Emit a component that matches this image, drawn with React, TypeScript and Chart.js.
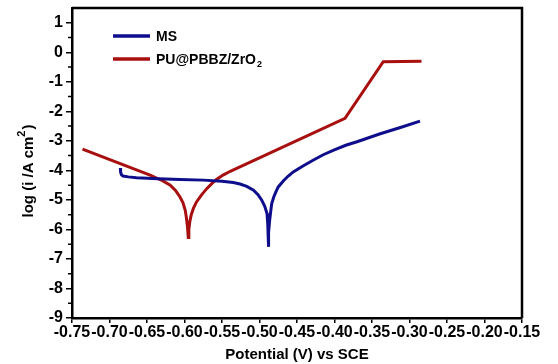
import React, { useEffect, useRef } from "react";
import { Chart, registerables } from "chart.js";

Chart.register(...registerables);

// ---- Data ----
const msPotential = [
  -0.6855, -0.6852, -0.684, -0.682, -0.675, -0.664, -0.635, -0.606, -0.575, -0.55,
  -0.535, -0.526, -0.517, -0.508, -0.502, -0.497, -0.493, -0.49, -0.489, -0.4885,
  -0.4883, -0.4875, -0.4865, -0.485, -0.4837, -0.481, -0.478, -0.475, -0.468, -0.462,
  -0.455, -0.442, -0.428, -0.415, -0.401, -0.385, -0.37, -0.339, -0.31, -0.286,
];
const msLogI = [
  -3.92, -4.06, -4.15, -4.19, -4.22, -4.25, -4.28, -4.31, -4.33, -4.37,
  -4.41, -4.46, -4.54, -4.67, -4.82, -5.01, -5.22, -5.46, -5.8, -6.2,
  -6.59, -6.1, -5.7, -5.38, -5.12, -4.9, -4.72, -4.56, -4.35, -4.2,
  -4.05, -3.85, -3.65, -3.47, -3.31, -3.15, -3.03, -2.76, -2.53, -2.33,
];

const puPotential = [
  -0.736, -0.645, -0.638, -0.63, -0.619, -0.612, -0.606, -0.602, -0.599, -0.5975,
  -0.596, -0.595, -0.5942, -0.593, -0.591, -0.588, -0.584, -0.577, -0.57, -0.563,
  -0.557, -0.548, -0.539, -0.386, -0.335, -0.284,
];
const puLogI = [
  -3.28, -4.17, -4.25, -4.34, -4.5, -4.68, -4.9, -5.1, -5.35, -5.6,
  -5.91, -6.27, -6.0, -5.75, -5.5, -5.28, -5.07, -4.82, -4.61, -4.43,
  -4.3, -4.15, -4.03, -2.24, -0.32, -0.3,
];

const xTickValues = [
  -0.75, -0.7, -0.65, -0.6, -0.55, -0.5, -0.45, -0.4, -0.35, -0.3, -0.25, -0.2, -0.15,
];
const yTickValues = [-9, -8, -7, -6, -5, -4, -3, -2, -1, 0, 1];
const yMinorTickValues = [-8.5, -7.5, -6.5, -5.5, -4.5, -3.5, -2.5, -1.5, -0.5, 0.5];

const seriesNames = ["MS", "PU@PBBZ/ZrO"];
const seriesColors = ["#0e0e8c", "#a80f0f"];

const FONT = "'Liberation Sans', Arial, sans-serif";

const decorPlugin = {
  id: "decor",
  afterDraw(chart: any) {
    const ctx = chart.ctx as CanvasRenderingContext2D;
    const { left, right, top, bottom } = chart.chartArea;
    const yScale = chart.scales.y;
    ctx.save();
    // top & right frame
    ctx.strokeStyle = "#000";
    ctx.lineWidth = 2.5;
    ctx.beginPath();
    ctx.moveTo(left, top);
    ctx.lineTo(right, top);
    ctx.lineTo(right, bottom);
    ctx.stroke();
    // minor y ticks
    ctx.lineWidth = 1.5;
    ctx.beginPath();
    for (const v of yMinorTickValues) {
      const py = yScale.getPixelForValue(v);
      ctx.moveTo(left - 4, py);
      ctx.lineTo(left, py);
    }
    ctx.stroke();

    // legend
    const lx0 = left + 41;
    const lx1 = left + 78;
    const tx = left + 84;
    const rows = [top + 28, top + 51];
    ctx.textBaseline = "middle";
    ctx.textAlign = "left";
    rows.forEach((ry, i) => {
      ctx.strokeStyle = seriesColors[i];
      ctx.lineWidth = 3.5;
      ctx.beginPath();
      ctx.moveTo(lx0, ry);
      ctx.lineTo(lx1, ry);
      ctx.stroke();
      ctx.fillStyle = "#000";
      ctx.font = `bold 14px ${FONT}`;
      ctx.fillText(seriesNames[i], tx, ry + 1);
      if (i === 1) {
        const w = ctx.measureText(seriesNames[i]).width;
        ctx.font = `bold 9px ${FONT}`;
        ctx.fillText("2", tx + w + 1, ry + 6);
      }
    });

    // y-axis title (rotated, with superscript)
    ctx.translate(29, 171);
    ctx.rotate(-Math.PI / 2);
    ctx.fillStyle = "#000";
    ctx.textBaseline = "middle";
    const main = "log (i /A cm";
    ctx.font = `bold 15px ${FONT}`;
    const wMain = ctx.measureText(main).width;
    const wClose = ctx.measureText(")").width;
    ctx.font = `bold 11px ${FONT}`;
    const wSup = ctx.measureText("2").width;
    const total = wMain + wSup + 1 + wClose;
    let x = -total / 2;
    ctx.font = `bold 15px ${FONT}`;
    ctx.fillText(main, x, 0);
    x += wMain;
    ctx.font = `bold 11px ${FONT}`;
    ctx.fillText("2", x, -7);
    x += wSup + 1;
    ctx.font = `bold 15px ${FONT}`;
    ctx.fillText(")", x, 0);
    ctx.restore();
  },
};

export default function App() {
  const canvasRef = useRef<HTMLCanvasElement | null>(null);

  useEffect(() => {
    document.body.style.margin = "0";
    const canvas = canvasRef.current;
    if (!canvas) return;
    const chart = new Chart(canvas, {
      type: "scatter",
      data: {
        datasets: [
          {
            label: seriesNames[0],
            data: msPotential.map((x, i) => ({ x, y: msLogI[i] })),
            borderColor: seriesColors[0],
            backgroundColor: seriesColors[0],
            borderWidth: 3,
            showLine: true,
            pointRadius: 0,
            tension: 0,
          },
          {
            label: seriesNames[1] + "2",
            data: puPotential.map((x, i) => ({ x, y: puLogI[i] })),
            borderColor: seriesColors[1],
            backgroundColor: seriesColors[1],
            borderWidth: 3,
            showLine: true,
            pointRadius: 0,
            tension: 0,
          },
        ],
      },
      options: {
        animation: false,
        responsive: true,
        maintainAspectRatio: false,
        layout: { padding: { top: 8, right: 36, left: 0, bottom: 0 } },
        plugins: {
          legend: { display: false },
          tooltip: { enabled: false },
        },
        scales: {
          x: {
            type: "linear",
            min: -0.75,
            max: -0.15,
            afterBuildTicks: (scale: any) => {
              scale.ticks = xTickValues.map((v) => ({ value: v }));
            },
            afterFit: (scale: any) => {
              scale.height = 46;
            },
            ticks: {
              autoSkip: false,
              maxRotation: 0,
              minRotation: 0,
              padding: 2,
              color: "#000",
              font: { family: FONT, size: 16, weight: "bold", lineHeight: 1 },
              callback: (v: any) => Number(v).toFixed(2),
            },
            grid: {
              display: true,
              drawOnChartArea: false,
              drawTicks: true,
              tickLength: 5,
              color: "#000",
              lineWidth: 1.5,
            },
            border: { display: true, color: "#000", width: 2.5 },
            title: {
              display: true,
              text: "Potential (V) vs SCE",
              color: "#000",
              font: { family: FONT, size: 15, weight: "bold" },
              padding: { top: 1, bottom: 0 },
            },
          },
          y: {
            type: "linear",
            min: -9,
            max: 1.5,
            afterBuildTicks: (scale: any) => {
              scale.ticks = yTickValues.map((v) => ({ value: v }));
            },
            afterFit: (scale: any) => {
              scale.width = 72;
              scale.paddingTop = 0;
              scale.paddingBottom = 0;
            },
            ticks: {
              padding: 3,
              color: "#000",
              font: { family: FONT, size: 16, weight: "bold", lineHeight: 1 },
              callback: (v: any) => String(v),
            },
            grid: {
              display: true,
              drawOnChartArea: false,
              drawTicks: true,
              tickLength: 6,
              color: "#000",
              lineWidth: 1.5,
            },
            border: { display: true, color: "#000", width: 2.5 },
          },
        },
      },
      plugins: [decorPlugin],
    });
    return () => chart.destroy();
  }, []);

  return (
    <div style={{ position: "fixed", left: 0, top: 0, width: 558, height: 364, background: "#fff" }}>
      <canvas ref={canvasRef} />
    </div>
  );
}
